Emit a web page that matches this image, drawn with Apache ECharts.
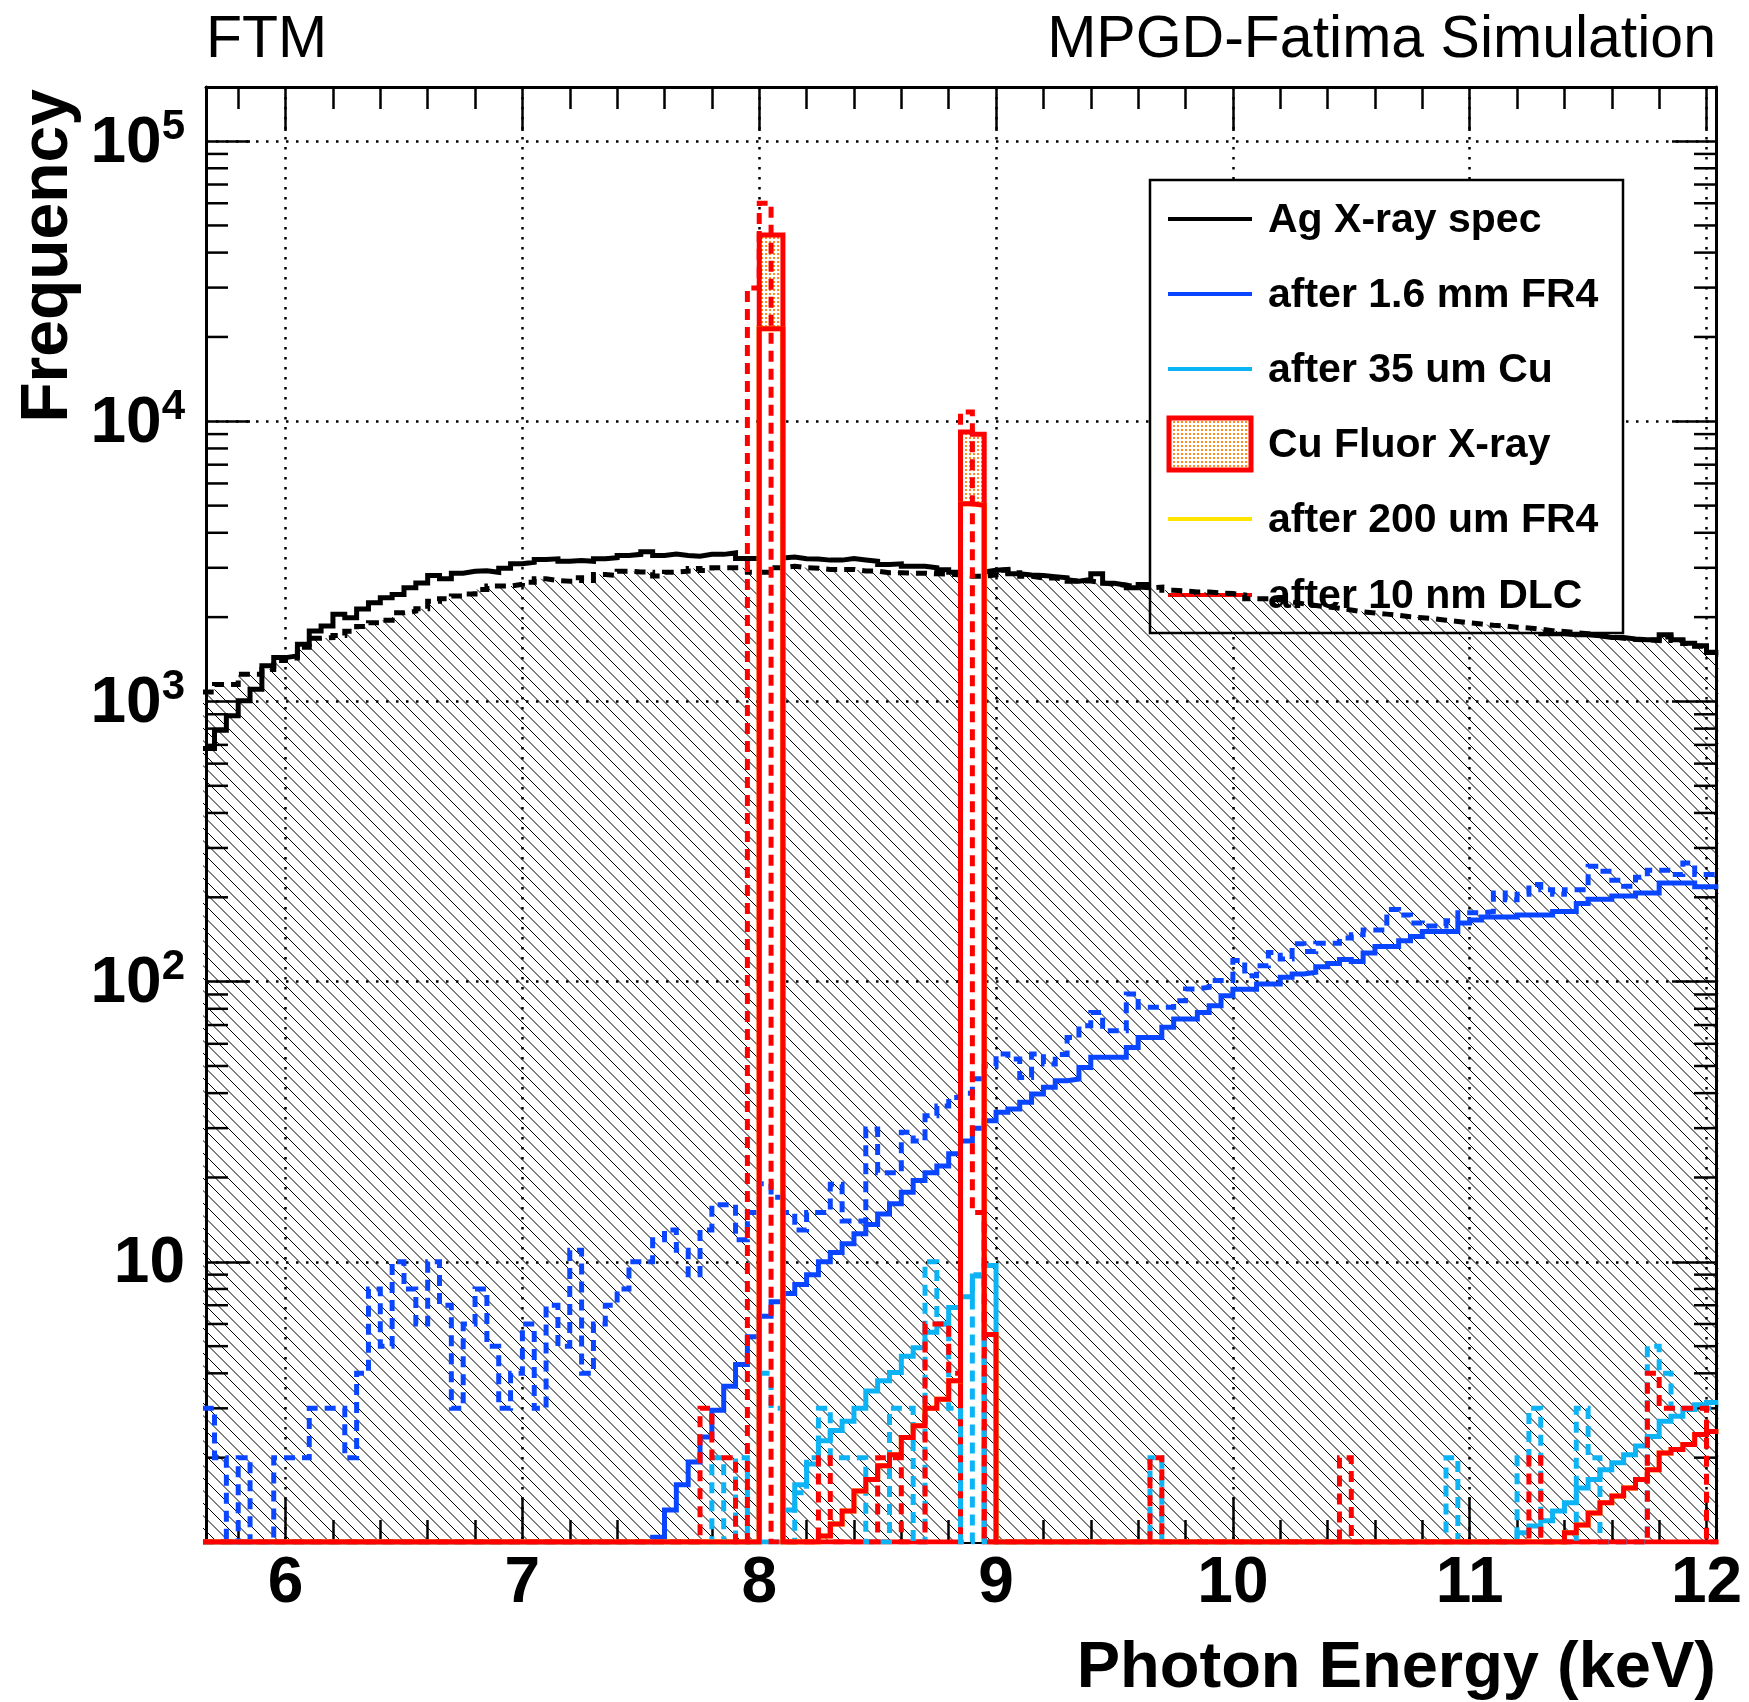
<!DOCTYPE html>
<html>
<head>
<meta charset="utf-8">
<script src="https://cdn.jsdelivr.net/npm/echarts@6/dist/echarts.min.js"></script>
<style>html,body{margin:0;padding:0;background:#fff}#chart{width:1749px;height:1702px}</style>
</head>
<body>
<div id="chart"></div>
<script>
// ---------- binning / axis ranges ----------
const BIN_LOW = 5.65, BIN_WIDTH = 0.05, N_BINS = 128;
const X_MIN = 5.664, X_MAX = 12.04;
const Y_MIN = 1, Y_MAX = 156000;
const X_TICK_LABELS = [6, 7, 8, 9, 10, 11, 12];
const Y_TICK_LABELS = [10, 100, 1000, 10000, 100000];

// ---------- series values (counts per 0.05 keV bin, first bin starts at 5.65 keV) ----------
// Ag X-ray spec (solid black)
const agSpec = [
  680, 790, 890, 1005, 1106, 1340, 1434, 1454, 1600, 1784,
  1860, 2046, 1990, 2140, 2250, 2345, 2410, 2545, 2650, 2814,
  2740, 2870, 2915, 2930, 2890, 2990, 3100, 3140, 3210, 3230,
  3165, 3185, 3165, 3230, 3260, 3320, 3350, 3420, 3320, 3360,
  3320, 3300, 3350, 3350, 3390, 3236, 3236, 3280, 3250, 3280,
  3230, 3225, 3195, 3195, 3240, 3200, 3165, 3083, 3100, 3040,
  3040, 3000, 2950, 2894, 2890, 2900, 2940, 2960, 2855, 2830,
  2815, 2790, 2765, 2685, 2725, 2855, 2640, 2600, 2545, 2617,
  2590, 2540, 2520, 2500, 2480, 2460, 2440, 2420, 2360, 2340,
  2300, 2270, 2240, 2210, 2180, 2150, 2120, 2100, 2070, 2050,
  2030, 2000, 1980, 1960, 1940, 1920, 1900, 1880, 1860, 1840,
  1820, 1800, 1780, 1745, 1745, 1730, 1730, 1716, 1692, 1692,
  1670, 1660, 1660, 1730, 1660, 1615, 1580, 1496
];
// Ag X-ray spec, second configuration (dashed black, hatched)
const agSpecB = [
  1080, 1150, 1150, 1250, 1250, 1300, 1400, 1430, 1560, 1680,
  1690, 1720, 1780, 1850, 1911, 1950, 2072, 2100, 2142, 2281,
  2325, 2377, 2420, 2511, 2581, 2581, 2620, 2665, 2740, 2700,
  2688, 2763, 2700, 2839, 2815, 2917, 2900, 2894, 2803, 2894,
  2917, 2984, 2935, 3000, 3000, 3000, 2894, 2894, 3000, 3040,
  3000, 2990, 2960, 2960, 2960, 2920, 2920, 2880, 2880, 2870,
  2870, 2855, 2850, 2830, 2800, 2800, 2830, 2940, 2880, 2800,
  2760, 2760, 2720, 2690, 2690, 2650, 2620, 2600, 2560, 2545,
  2560, 2495, 2480, 2461, 2461, 2440, 2427, 2400, 2328, 2328,
  2300, 2265, 2230, 2200, 2174, 2150, 2120, 2089, 2070, 2050,
  2030, 2005, 1990, 1975, 1950, 1930, 1910, 1890, 1870, 1860,
  1840, 1830, 1810, 1790, 1777, 1760, 1745, 1720, 1700, 1680,
  1665, 1660, 1650, 1700, 1650, 1610, 1575, 1500
];
// after 1.6 mm FR4 (solid blue)
const fr4Thick = [
  0, 0, 0, 0, 0, 0, 0, 0, 0, 0,
  0, 0, 0, 0, 0, 0, 0, 0, 0, 0,
  0, 0, 0, 0, 0, 0, 0, 0, 0, 0,
  0, 0, 0, 0, 0, 0, 0, 0, 1.04, 1.3,
  1.6, 1.93, 2.37, 2.95, 3.6, 4.3, 5.4, 6.4, 7.2, 7.7,
  8.3, 9.0, 10.0, 10.8, 11.6, 12.6, 13.6, 14.8, 16.1, 17.7,
  19.5, 20.8, 22, 24.3, 27, 30, 31.9, 34.2, 35.1, 37.1,
  39.7, 42, 44.3, 44.9, 49.4, 53.7, 53.7, 53.7, 58.2, 63.2,
  63.2, 68.7, 73.6, 73.6, 77.6, 82, 89, 94, 94, 98,
  98, 103.6, 106.5, 108, 113, 116, 120, 118, 126.6, 133.6,
  133.6, 140, 145, 151, 151, 151, 162, 166, 170, 170,
  170, 173, 173, 173, 178, 178, 190, 197, 197, 202,
  202, 207, 207, 225, 225, 225, 218, 218
];
// after 1.6 mm FR4, second configuration (dashed blue)
const fr4ThickB = [
  3, 2, 0, 2, 0, 0, 2, 2, 2, 3,
  3, 3, 2, 4, 8, 5, 10, 8, 6, 10,
  7, 3, 6, 8, 5, 3, 4, 6, 3, 7,
  5, 11, 4, 6, 7, 8, 10, 10, 12, 13,
  11, 9, 13, 16, 16, 12, 15, 19, 17, 15,
  13, 15, 15, 18.9, 14, 14, 29.8, 20.8, 20.8, 29,
  27, 33.2, 36, 38.6, 40, 45, 50, 55.2, 53, 45.5,
  55.2, 50.8, 55, 63.2, 69.6, 77.6, 66.8, 66.8, 90.3, 81,
  81, 81, 85.5, 94.2, 95.5, 100.9, 100.9, 118.9, 105, 114,
  127, 120.5, 136.5, 128, 137, 137, 143, 147, 153, 153,
  181, 173, 162, 158, 158, 165, 176, 176, 178, 207,
  196, 205, 222, 213, 205, 213, 213, 258, 248, 230,
  219, 236, 250, 250, 241, 265, 241, 241
];
// after 35 um Cu (solid light blue)
const cu35 = [
  0, 0, 0, 0, 0, 0, 0, 0, 0, 0,
  0, 0, 0, 0, 0, 0, 0, 0, 0, 0,
  0, 0, 0, 0, 0, 0, 0, 0, 0, 0,
  0, 0, 0, 0, 0, 0, 0, 0, 0, 0,
  0, 0, 0, 0, 0, 0, 0, 0, 0, 1.3,
  1.6, 1.9, 2.3, 2.5, 2.7, 3.0, 3.46, 3.76, 4.03, 4.6,
  4.94, 5.6, 6.0, 6.87, 7.5, 8.9, 9.7, 0, 0, 0,
  0, 0, 0, 0, 0, 0, 0, 0, 0, 0,
  0, 0, 0, 0, 0, 0, 0, 0, 0, 0,
  0, 0, 0, 0, 0, 0, 0, 0, 0, 0,
  0, 0, 0, 0, 0, 0, 0, 0, 0, 0,
  0, 1.08, 1.14, 1.19, 1.29, 1.38, 1.56, 1.67, 1.81, 1.92,
  2.05, 2.2, 2.38, 2.7, 2.81, 2.97, 3.09, 3.15
];
// after 35 um Cu, second configuration (dashed light blue)
const cu35B = [
  0, 0, 0, 0, 0, 0, 0, 0, 0, 0,
  0, 0, 0, 0, 0, 0, 0, 0, 0, 0,
  0, 0, 0, 0, 0, 0, 0, 0, 0, 0,
  0, 0, 0, 0, 0, 0, 0, 0, 0, 0,
  0, 0, 0, 2, 0, 2, 0, 4, 3, 0,
  1.5, 2, 3, 2, 2, 2, 0, 0, 3, 3,
  0, 10, 6, 3, 0, 9, 0, 0, 0, 0,
  0, 0, 0, 0, 0, 0, 0, 0, 0, 0,
  2, 0, 0, 0, 0, 0, 0, 0, 0, 0,
  0, 0, 0, 0, 0, 0, 0, 0, 0, 0,
  0, 0, 0, 0, 0, 2, 0, 0, 0, 0,
  0, 2, 3, 0, 0, 0, 3, 2, 0, 0,
  0, 0, 5, 4, 3, 3, 3, 3
];
// Cu Fluor X-ray (red outline, dotted orange fill)
const cuFluor = [
  0, 0, 0, 0, 0, 0, 0, 0, 0, 0,
  0, 0, 0, 0, 0, 0, 0, 0, 0, 0,
  0, 0, 0, 0, 0, 0, 0, 0, 0, 0,
  0, 0, 0, 0, 0, 0, 0, 0, 0, 0,
  0, 0, 0, 0, 0, 0, 0, 46200, 46200, 0,
  0, 0, 0, 0, 0, 0, 0, 0, 0, 0,
  0, 0, 0, 0, 9160, 8990, 0, 0, 0, 0,
  0, 0, 0, 0, 0, 0, 0, 0, 0, 0,
  0, 0, 0, 0, 0, 0, 0, 0, 0, 0,
  0, 0, 0, 0, 0, 0, 0, 0, 0, 0,
  0, 0, 0, 0, 0, 0, 0, 0, 0, 0,
  0, 0, 0, 0, 0, 0, 0, 0, 0, 0,
  0, 0, 0, 0, 0, 0, 0, 0
];
// after 200 um FR4 (solid yellow, lies under the DLC curve)
const fr4Thin = [
  0, 0, 0, 0, 0, 0, 0, 0, 0, 0,
  0, 0, 0, 0, 0, 0, 0, 0, 0, 0,
  0, 0, 0, 0, 0, 0, 0, 0, 0, 0,
  0, 0, 0, 0, 0, 0, 0, 0, 0, 0,
  0, 0, 0, 0, 0, 0, 0, 21400, 21400, 0,
  0, 0, 1.05, 1.16, 1.29, 1.52, 1.67, 1.87, 2.05, 2.36,
  2.6, 3.0, 3.23, 3.76, 5080, 5010, 5.5, 0, 0, 0,
  0, 0, 0, 0, 0, 0, 0, 0, 0, 0,
  0, 0, 0, 0, 0, 0, 0, 0, 0, 0,
  0, 0, 0, 0, 0, 0, 0, 0, 0, 0,
  0, 0, 0, 0, 0, 0, 0, 0, 0, 0,
  0, 0, 0, 0, 0, 1.08, 1.15, 1.27, 1.38, 1.46,
  1.56, 1.67, 1.81, 2.08, 2.14, 2.23, 2.42, 2.48
];
// after 10 nm DLC (solid red)
const dlc = [
  0, 0, 0, 0, 0, 0, 0, 0, 0, 0,
  0, 0, 0, 0, 0, 0, 0, 0, 0, 0,
  0, 0, 0, 0, 0, 0, 0, 0, 0, 0,
  0, 0, 0, 0, 0, 0, 0, 0, 0, 0,
  0, 0, 0, 0, 0, 0, 0, 21400, 21400, 0,
  0, 0, 1.05, 1.16, 1.29, 1.52, 1.67, 1.87, 2.05, 2.36,
  2.6, 3.0, 3.23, 3.76, 5080, 5010, 5.5, 0, 0, 0,
  0, 0, 0, 0, 0, 0, 0, 0, 0, 0,
  0, 0, 0, 0, 0, 0, 0, 0, 0, 0,
  0, 0, 0, 0, 0, 0, 0, 0, 0, 0,
  0, 0, 0, 0, 0, 0, 0, 0, 0, 0,
  0, 0, 0, 0, 0, 1.08, 1.15, 1.27, 1.38, 1.46,
  1.56, 1.67, 1.81, 2.08, 2.14, 2.23, 2.42, 2.48
];
// after 10 nm DLC, second configuration (dashed red)
const dlcB = [
  0, 0, 0, 0, 0, 0, 0, 0, 0, 0,
  0, 0, 0, 0, 0, 0, 0, 0, 0, 0,
  0, 0, 0, 0, 0, 0, 0, 0, 0, 0,
  0, 0, 0, 0, 0, 0, 0, 0, 0, 0,
  0, 0, 3, 2, 2, 0, 29900, 60000, 0, 0,
  0, 0, 2, 0, 0, 0, 0, 2, 2, 0,
  0, 6, 6, 4, 10800, 15, 0, 0, 0, 0,
  0, 0, 0, 0, 0, 0, 0, 0, 0, 0,
  2, 0, 0, 0, 0, 0, 0, 0, 0, 0,
  0, 0, 0, 0, 0, 0, 2, 0, 0, 0,
  0, 0, 0, 0, 0, 0, 0, 0, 0, 0,
  0, 0, 2, 0, 0, 0, 0, 0, 0, 0,
  0, 0, 4, 3, 3, 3, 3, 0
];

// ---------- styling ----------
const FONT = '"Liberation Sans", Arial, Helvetica, sans-serif';
const BLACK = '#000000', BLUE = '#0a46ff', CYAN = '#0db4f5', RED = '#ff0000', YELLOW = '#ffe400', ORANGE = '#ff8a1e';
const LINE_W = 5;

function makeHatch() {
  const s = 25, c = document.createElement('canvas');
  c.width = s; c.height = s;
  const g = c.getContext('2d');
  g.strokeStyle = '#000'; g.lineWidth = 1.0;
  g.beginPath();
  [-25, -12.5, 0, 12.5, 25].forEach(off => {
    g.moveTo(-5, -5 - off); g.lineTo(s + 5, s + 5 - off);
  });
  g.stroke();
  return c;
}
function makeDots() {
  const c = document.createElement('canvas');
  c.width = 4; c.height = 4;
  const g = c.getContext('2d');
  g.fillStyle = '#ffffff'; g.fillRect(0, 0, 4, 4);
  g.fillStyle = ORANGE; g.fillRect(1, 1, 2, 2);
  return c;
}
const hatch = { image: makeHatch(), repeat: 'repeat' };
const dots = { image: makeDots(), repeat: 'repeat' };

const edges = [];
for (let i = 0; i <= N_BINS; i++) edges.push(Math.round((BIN_LOW + i * BIN_WIDTH) * 1e4) / 1e4);

function steps(values) {
  const pts = values.map((v, i) => [edges[i], v > 0 ? v : Y_MIN]);
  pts.push([edges[N_BINS], pts[pts.length - 1][1]]);
  return pts;
}
function hist(name, values, color, dashed, extra) {
  return Object.assign({
    type: 'line', name: name, data: steps(values), step: 'end',
    symbol: 'none', showSymbol: false, silent: true, animation: false, clip: true, z: 3,
    lineStyle: { color: color, width: LINE_W, type: dashed ? [11, 7] : 'solid', cap: 'butt', join: 'miter' },
    itemStyle: { color: color },
    emphasis: { disabled: true }
  }, extra || {});
}

// white interior of the fluorescence peak bins, up to the DLC level
const peakInterior = dlc.map((v, i) => (cuFluor[i] > 0 ? v : 0));

// minor tick positions of the log axis (2..9 x 10^k)
const Y_MINOR = [];
for (let e = 0; e <= 5; e++) for (let m = 2; m <= 9; m++) {
  const v = m * Math.pow(10, e);
  if (v < Y_MAX) Y_MINOR.push(v);
}

const axisTickStyle = { color: '#000', width: 2.5 };
const gridLineStyle = { color: '#000', width: 2.5, type: [2.5, 7.5] };

// ---------- legend (drawn as graphic elements) ----------
const LEG = { x: 1150, y: 180, w: 473, h: 453, sx1: 1168, sx2: 1252, tx: 1268 };
const legendEntries = [
  { name: 'Ag X-ray spec', color: BLACK, y: 219 },
  { name: 'after 1.6 mm FR4', color: BLUE, y: 294 },
  { name: 'after 35 um Cu', color: CYAN, y: 369 },
  { name: 'Cu Fluor X-ray', color: RED, y: 444, box: true },
  { name: 'after 200 um FR4', color: YELLOW, y: 519 },
  { name: 'after 10 nm DLC', color: RED, y: 595 }
];
const legendGraphics = [{
  type: 'rect', z: 2, silent: true,
  shape: { x: LEG.x, y: LEG.y, width: LEG.w, height: LEG.h },
  style: { fill: '#ffffff', stroke: '#000', lineWidth: 2.5 }
}];
legendEntries.forEach(e => {
  if (e.box) {
    legendGraphics.push({
      type: 'rect', z: 2, silent: true,
      shape: { x: LEG.sx1 + 1, y: e.y - 26, width: LEG.sx2 - LEG.sx1 - 2, height: 52 },
      style: { fill: dots, stroke: RED, lineWidth: 5 }
    });
  } else {
    legendGraphics.push({
      type: 'line', z: 2, silent: true,
      shape: { x1: LEG.sx1, y1: e.y, x2: LEG.sx2, y2: e.y },
      style: { stroke: e.color, lineWidth: 4 }
    });
  }
  legendGraphics.push({
    type: 'text', z: 2, silent: true, x: LEG.tx, y: e.y + 2,
    style: {
      text: e.name, font: 'bold 41px ' + FONT, fill: '#000',
      align: 'left', verticalAlign: 'middle', textAlign: 'left', textVerticalAlign: 'middle'
    }
  });
});

// ---------- chart ----------
const chart = echarts.init(document.getElementById('chart'), null, { renderer: 'canvas' });
const option = {
  backgroundColor: '#ffffff',
  animation: false,
  textStyle: { fontFamily: FONT },
  title: [
    { text: 'FTM', left: 206, top: 11, padding: 0,
      textStyle: { fontFamily: FONT, fontSize: 59, fontWeight: 'normal', color: '#000' } },
    { text: 'MPGD-Fatima Simulation', right: 33, top: 11, padding: 0,
      textStyle: { fontFamily: FONT, fontSize: 59, fontWeight: 'normal', color: '#000' } }
  ],
  grid: { left: 206, right: 33, top: 87, bottom: 160, containLabel: false, outerBoundsMode: 'none' },
  xAxis: [
    {
      type: 'value', min: X_MIN, max: X_MAX, splitNumber: 6, position: 'bottom',
      name: 'Photon Energy (keV)', nameLocation: 'end', nameGap: 0, nameMoveOverlap: false,
      nameTextStyle: { fontFamily: FONT, fontSize: 65, fontWeight: 'bold', color: '#000',
        align: 'right', verticalAlign: 'top', lineHeight: 65, padding: [95, 0, 0, 0] },
      axisLine: { show: true, onZero: false, lineStyle: { color: '#000', width: 3 } },
      axisTick: { show: true, inside: true, length: 44, lineStyle: axisTickStyle },
      minorTick: { show: true, splitNumber: 5, length: 22, lineStyle: axisTickStyle },
      splitLine: { show: true, lineStyle: gridLineStyle },
      axisLabel: {
        show: true, interval: 0, showMinLabel: false, showMaxLabel: false, margin: 10,
        fontFamily: FONT, fontSize: 64, fontWeight: 'bold', color: '#000',
        formatter: v => (X_TICK_LABELS.indexOf(Math.round(v * 1000) / 1000) >= 0 ? String(v) : '')
      }
    },
    {
      type: 'value', min: X_MIN, max: X_MAX, splitNumber: 6, position: 'top',
      axisLine: { show: true, onZero: false, lineStyle: { color: '#000', width: 3 } },
      axisTick: { show: true, inside: true, length: 44, lineStyle: axisTickStyle },
      minorTick: { show: true, splitNumber: 5, length: 22, lineStyle: axisTickStyle },
      splitLine: { show: false }, axisLabel: { show: false }
    }
  ],
  yAxis: [
    {
      type: 'log', logBase: 10, min: Y_MIN, max: Y_MAX, position: 'left',
      name: 'Frequency', nameLocation: 'end', nameGap: -2, nameRotate: 90, nameMoveOverlap: false,
      nameTextStyle: { fontFamily: FONT, fontSize: 66, fontWeight: 'bold', color: '#000',
        align: 'right', verticalAlign: 'bottom', lineHeight: 66, padding: [0, 0, 124, 0] },
      axisLine: { show: true, onZero: false, lineStyle: { color: '#000', width: 3 } },
      axisTick: { show: true, inside: true, length: 44, lineStyle: axisTickStyle },
      splitLine: { show: true, lineStyle: gridLineStyle },
      axisLabel: {
        show: true, showMinLabel: false, showMaxLabel: false, margin: 21,
        formatter: function (v) {
          const e = Math.round(Math.log10(v));
          if (Y_TICK_LABELS.indexOf(Math.pow(10, e)) < 0) return '';
          return e === 1 ? '{b|10}' : '{b|10}{s|' + e + '}';
        },
        rich: {
          b: { fontFamily: FONT, fontSize: 64, fontWeight: 'bold', color: '#000',
               lineHeight: 70, padding: [12, 0, 0, 0], verticalAlign: 'bottom' },
          s: { fontFamily: FONT, fontSize: 42, fontWeight: 'bold', color: '#000',
               lineHeight: 56, verticalAlign: 'top' }
        }
      }
    },
    {
      type: 'log', logBase: 10, min: Y_MIN, max: Y_MAX, position: 'right',
      axisLine: { show: true, onZero: false, lineStyle: { color: '#000', width: 3 } },
      axisTick: { show: true, inside: true, length: 44, lineStyle: axisTickStyle },
      splitLine: { show: false }, axisLabel: { show: false }
    }
  ],
  graphic: { elements: legendGraphics },
  series: [
    hist('Ag X-ray spec', agSpec, BLACK, false, { z: 1 }),
    hist('Ag X-ray spec (2)', agSpecB, BLACK, true,
      { areaStyle: { color: hatch, origin: 'start', opacity: 1 } }),
    hist('after 1.6 mm FR4', fr4Thick, BLUE, false),
    hist('after 35 um Cu', cu35, CYAN, false),
    hist('Cu Fluor X-ray', cuFluor, RED, false,
      { areaStyle: { color: dots, origin: 'start', opacity: 1 } }),
    hist('peak interior', peakInterior, '#ffffff', false,
      { lineStyle: { width: 0, opacity: 0 }, areaStyle: { color: '#ffffff', origin: 'start', opacity: 1 } }),
    hist('after 1.6 mm FR4 (2)', fr4ThickB, BLUE, true),
    hist('after 35 um Cu (2)', cu35B, CYAN, true),
    hist('after 200 um FR4', fr4Thin, YELLOW, false),
    hist('after 10 nm DLC (2)', dlcB, RED, true),
    hist('after 10 nm DLC', dlc, RED, false),
    {
      type: 'custom', name: 'minor ticks', silent: true, animation: false, z: 3, clip: false,
      coordinateSystem: 'cartesian2d', xAxisIndex: 0, yAxisIndex: 0,
      encode: { x: 0, y: 1 },
      data: Y_MINOR.map(v => [X_MIN, v]),
      renderItem: function (params, api) {
        const v = api.value(1);
        const a = api.coord([X_MIN, v]);
        const b = api.coord([X_MAX, v]);
        return {
          type: 'group',
          children: [
            { type: 'line', shape: { x1: a[0], y1: a[1], x2: a[0] + 22, y2: a[1] }, style: { stroke: '#000', lineWidth: 2.5 } },
            { type: 'line', shape: { x1: b[0] - 22, y1: b[1], x2: b[0], y2: b[1] }, style: { stroke: '#000', lineWidth: 2.5 } }
          ]
        };
      }
    }
  ]
};
chart.setOption(option);
</script>
</body>
</html>
